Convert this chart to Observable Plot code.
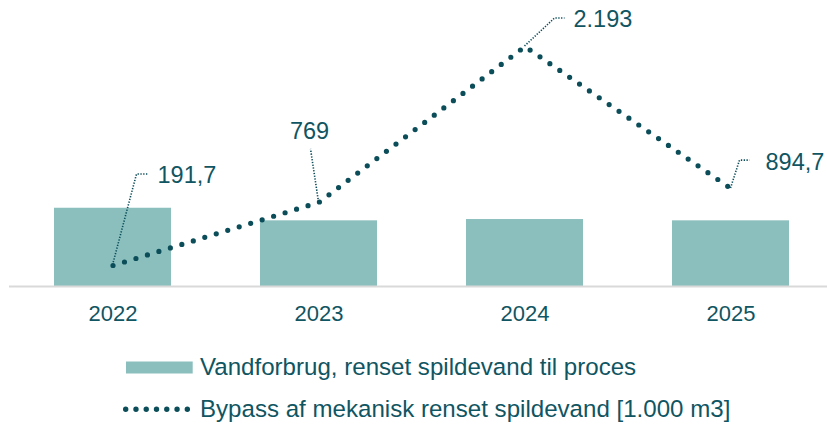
<!DOCTYPE html>
<html>
<head>
<meta charset="utf-8">
<script src="https://cdn.jsdelivr.net/npm/d3@7"></script>
<script src="https://cdn.jsdelivr.net/npm/@observablehq/plot@0.6"></script>
<style>
  html, body { margin: 0; padding: 0; background: #fff; }
  #wrap { position: relative; width: 827px; height: 424px; font-family: "Liberation Sans", Arial, sans-serif; color: #105562; }
  .leg { position: absolute; left: 0; height: 28px; line-height: 28px; font-size: 24.1px; white-space: nowrap; }
  .leg svg { position: absolute; left: 0; top: 0; }
  .leg span { position: absolute; left: 200px; top: 0; }
</style>
</head>
<body>
<div id="wrap"></div>
<script>
// ---- data ----
const years = ["2022", "2023", "2024", "2025"];
const vandforbrug = [715, 600, 612, 600];          // bars
const bypass = [191.7, 769, 2193, 894.7];          // dotted line, 1.000 m3
const bypassLabels = ["191,7", "769", "2.193", "894,7"];
const seriesNames = ["Vandforbrug, renset spildevand til proces", "Bypass af mekanisk renset spildevand [1.000 m3]"];

// ---- styling / annotation layout (pixel offsets from each point) ----
const BAR = "#8bbfbe", LINE = "#0b4e5a", TEXT = "#105562";
const leader = [
  {pts: [[24, -91], [36, -91]], lx: 45, ly: -81.6, anchor: "start"},
  {pts: [[-8, -53]],            lx: -9, ly: -63,   anchor: "middle"},
  {pts: [[30, -28], [40, -28]], lx: 49, ly: -19.3, anchor: "start"},
  {pts: [[9, -28], [19, -28]],  lx: 35, ly: -18,   anchor: "start"}
];

const rows = years.map((y, i) => ({year: y, vand: vandforbrug[i], bypass: bypass[i], label: bypassLabels[i]}));

const plot = Plot.plot({
  width: 827,
  height: 340,
  marginTop: 46,
  marginBottom: 54,
  marginLeft: 9,
  marginRight: 0,
  style: {fontFamily: '"Liberation Sans", Arial, sans-serif', background: "transparent"},
  x: {domain: years, range: [9, 834.6], paddingInner: 0.43, paddingOuter: 0.215, label: null},
  y: {domain: [0, 2193], axis: null},
  marks: [
    Plot.barY(rows, {x: "year", y: "vand", fill: BAR}),
    Plot.ruleY([0], {stroke: "#d9d9d9", strokeWidth: 2}),
    Plot.line(rows, {x: "year", y: "bypass", stroke: LINE, strokeWidth: 5.2, strokeDasharray: "0 12", strokeLinecap: "round", strokeLinejoin: "round"}),
    Plot.axisX({tickSize: 0, tickPadding: 19, fontSize: 22, fill: TEXT, label: null})
  ]
});

document.getElementById("wrap").appendChild(plot);

// annotations via Plot's scales
const sx = plot.scale("x"), sy = plot.scale("y");
const svg = d3.select(plot);
const g = svg.append("g");
rows.forEach((r, i) => {
  const px = sx.apply(r.year) + sx.bandwidth / 2;
  const py = sy.apply(r.bypass);
  const L = leader[i];
  const pts = [[px, py], ...L.pts.map(([dx, dy]) => [px + dx, py + dy])];
  g.append("path")
    .attr("d", d3.line()(pts))
    .attr("fill", "none")
    .attr("stroke", LINE)
    .attr("stroke-width", 1.6)
    .attr("stroke-dasharray", "1.3 1.5");
  g.append("text")
    .attr("x", px + L.lx)
    .attr("y", py + L.ly)
    .attr("text-anchor", L.anchor)
    .attr("fill", TEXT)
    .attr("font-size", 23.5)
    .text(r.label);
});

// legend (HTML below the SVG)
const wrap = document.getElementById("wrap");
const leg1 = document.createElement("div");
leg1.className = "leg"; leg1.style.top = "352.5px"; leg1.style.width = "827px";
leg1.innerHTML = `<svg width="200" height="28"><rect x="126" y="8.5" width="66.7" height="12" fill="${BAR}"/></svg><span>${seriesNames[0]}</span>`;
wrap.appendChild(leg1);
const leg2 = document.createElement("div");
leg2.className = "leg"; leg2.style.top = "394.8px"; leg2.style.width = "827px";
leg2.innerHTML = `<svg width="200" height="28"><line x1="125.7" x2="187.4" y1="14.2" y2="14.2" stroke="${LINE}" stroke-width="5.4" stroke-linecap="round" stroke-dasharray="0 10.27"/></svg><span>${seriesNames[1]}</span>`;
wrap.appendChild(leg2);
</script>
</body>
</html>
